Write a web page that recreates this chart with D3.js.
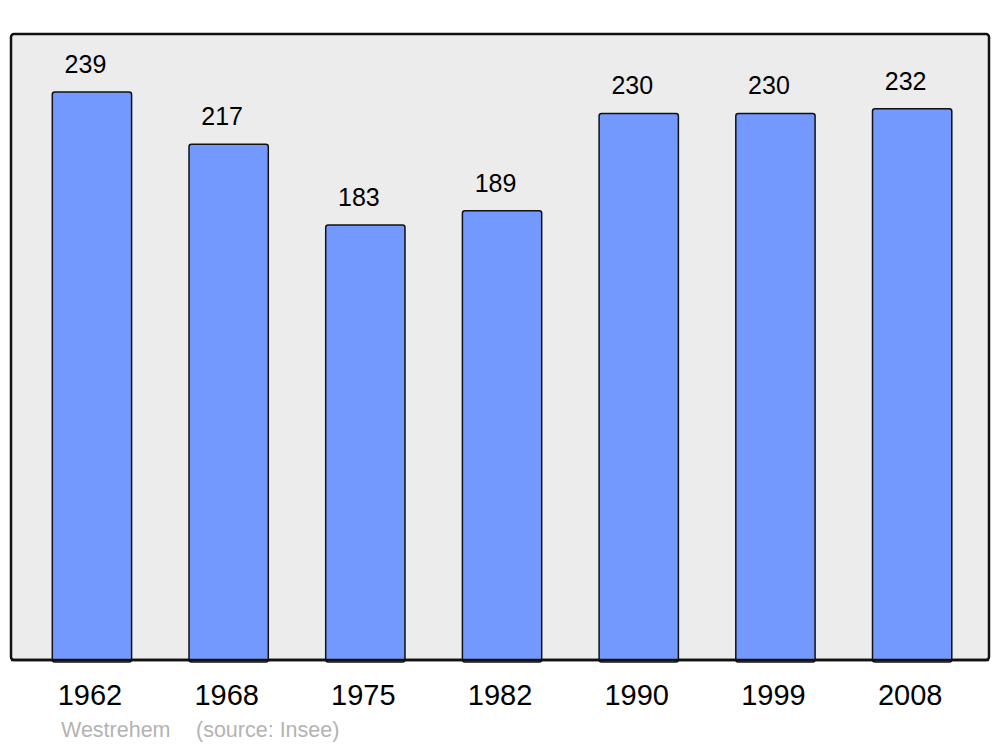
<!DOCTYPE html>
<html>
<head>
<meta charset="utf-8">
<script src="https://cdnjs.cloudflare.com/ajax/libs/d3/7.8.5/d3.min.js"></script>
<style>
  html, body { margin: 0; padding: 0; background: #fff; }
  svg { display: block; font-family: "Liberation Sans", Arial, sans-serif; }
</style>
</head>
<body>
<div id="chart"></div>
<script>
const years = ['1962', '1968', '1975', '1982', '1990', '1999', '2008'];
const population = [239, 217, 183, 189, 230, 230, 232];
const townName = 'Westrehem';
const sourceNote = '(source: Insee)';

const width = 1000;
const height = 747;
const panel = { left: 11, top: 34, right: 989, bottom: 660 };

const svg = d3.select('#chart')
    .append('svg')
    .attr('width', width)
    .attr('height', height);

svg.append('rect')
    .attr('x', panel.left)
    .attr('y', panel.top)
    .attr('width', panel.right - panel.left)
    .attr('height', panel.bottom - panel.top)
    .attr('rx', 3)
    .attr('fill', '#ececec')
    .attr('stroke', '#111')
    .attr('stroke-width', 2.5);

const xScale = d3.scaleBand()
    .domain(years)
    .range([23.6, 980.5])
    .paddingInner(0.42)
    .paddingOuter(0.21);

const yScale = d3.scaleLinear()
    .domain([0, 263.4])
    .range([panel.bottom, panel.top]);

const data = years.map((year, i) => ({ year, value: population[i] }));

svg.selectAll('.bar')
    .data(data)
    .enter()
    .append('rect')
    .attr('class', 'bar')
    .attr('x', d => xScale(d.year))
    .attr('y', d => yScale(d.value))
    .attr('width', xScale.bandwidth())
    .attr('height', d => yScale(0) - yScale(d.value) + 2)
    .attr('rx', 2.5)
    .attr('fill', '#7399ff')
    .attr('stroke', '#111')
    .attr('stroke-width', 1.5);

// redraw the bottom border over the bar feet
svg.append('line')
    .attr('x1', panel.left)
    .attr('x2', panel.right)
    .attr('y1', panel.bottom)
    .attr('y2', panel.bottom)
    .attr('stroke', '#111')
    .attr('stroke-width', 2.5);

svg.selectAll('.value-label')
    .data(data)
    .enter()
    .append('text')
    .attr('class', 'value-label')
    .attr('x', d => xScale(d.year) + xScale.bandwidth() / 2 - 6.5)
    .attr('y', d => yScale(d.value) - 19)
    .attr('text-anchor', 'middle')
    .style('font-size', '25px')
    .attr('fill', '#000')
    .text(d => d.value);

svg.selectAll('.year-label')
    .data(data)
    .enter()
    .append('text')
    .attr('class', 'year-label')
    .attr('x', d => xScale(d.year) + xScale.bandwidth() / 2 - 2)
    .attr('y', 705)
    .attr('text-anchor', 'middle')
    .style('font-size', '29px')
    .attr('fill', '#000')
    .text(d => d.year);

svg.append('text')
    .attr('x', 61)
    .attr('y', 737)
    .style('font-size', '21.5px')
    .attr('fill', '#b3b3b3')
    .text(townName);

svg.append('text')
    .attr('x', 196)
    .attr('y', 737)
    .style('font-size', '21.5px')
    .attr('fill', '#b3b3b3')
    .text(sourceNote);
</script>
</body>
</html>
